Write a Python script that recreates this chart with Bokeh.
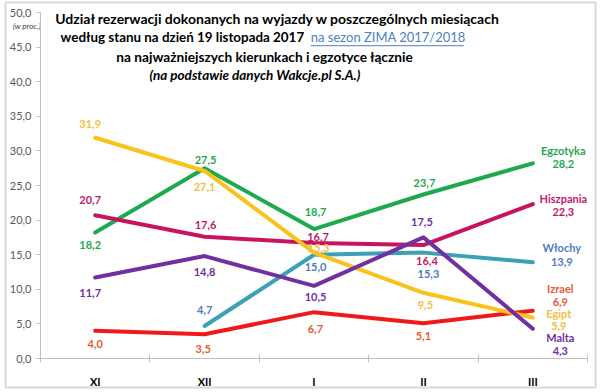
from bokeh.plotting import figure
from bokeh.models import Range1d, FixedTicker, ColumnDataSource
from bokeh.core.properties import value
from bokeh.embed import file_html
from bokeh.resources import INLINE

# ---- data ----
months = ["XI", "XII", "I", "II", "III"]
series_names = ["Egzotyka", "Hiszpania", "Włochy", "Izrael", "Egipt", "Malta"]
egzotyka = [18.2, 27.5, 18.7, 23.7, 28.2]
hiszpania = [20.7, 17.6, 16.7, 16.4, 22.3]
wlochy = [None, 4.7, 15.0, 15.3, 13.9]
izrael = [4.0, 3.5, 6.7, 5.1, 6.9]
egipt = [31.9, 27.1, 15.3, 9.5, 5.9]
malta = [11.7, 14.8, 10.5, 17.5, 4.3]
y_ticks = [0, 5, 10, 15, 20, 25, 30, 35, 40, 45, 50]

title_lines = [
    "Udział rezerwacji dokonanych na wyjazdy w poszczególnych miesiącach",
    "według stanu na dzień 19 listopada 2017",
    "na sezon ZIMA 2017/2018 ",
    "na najważniejszych kierunkach i egzotyce łącznie",
    "(na podstawie danych Wakcje.pl S.A.)",
]
unit_text = "(w proc.)"

# ---- styles ----
FONT = "Lato"
line_colors = ["#1fa94f", "#c8145f", "#3ca0b6", "#f01818", "#f8c31a", "#7030a0"]
label_colors = ["#1fa94f", "#c0186a", "#4f7cbf", "#e65a32", "#f0c040", "#7030a0"]
# (dx, dy) pixel offsets of value labels from their points
label_offsets = [
    [(-5, 12), (1, -8.5), (1.5, -17), (1, -11), (30.5, 0.5)],
    [(-5, -15), (1, -12), (4, -6), (3.5, 15.5), (30.5, 8)],
    [None, (0, -15.5), (1.5, 12.5), (5, 21), (29, 0)],
    [(0, 13), (-1.5, 14.5), (1.5, 17), (0, 13), (27.5, -8.6)],
    [(-5, -14), (0, 16), (4.5, -5), (2, 12), (26, 8.8)],
    [(-5, 15), (0, 15.5), (1.5, 11.5), (-1.5, -15), (27.5, 22.5)],
]
name_dy = [-13, -5.5, -14.5, -22, -4.5, 9.1]  # series name offset at last point

all_series = [egzotyka, hiszpania, wlochy, izrael, egipt, malta]
xpos = [i + 0.5 for i in range(len(months))]
n = len(months)

# layout geometry (pixels): axes box inside the 600x392 canvas
W, H = 600, 392
AX_L, AX_R, AX_T, AX_B = 40, 587, 12, 358
ux = (AX_R - AX_L) / n          # px per category
uy = (AX_B - AX_T) / 50.0       # px per percent

p = figure(width=W, height=H, output_backend="svg", toolbar_location=None,
           x_range=Range1d(-AX_L / ux, n + (W - AX_R) / ux),
           y_range=Range1d(-(H - AX_B) / uy, 50 + AX_T / uy),
           min_border_left=0, min_border_right=0, min_border_top=0, min_border_bottom=0)
p.outline_line_color = None
p.background_fill_color = "white"
p.border_fill_color = "white"
p.xgrid.visible = False
p.ygrid.visible = False

# outer chart border
p.quad(left=[(5 - AX_L) / ux], right=[n + (595 - AX_R) / ux],
       top=[50 + (AX_T - 2) / uy], bottom=[-(387 - AX_B) / uy],
       fill_color=None, line_color="#d9d9d9", line_width=2)

# y axis
p.yaxis.fixed_location = 0
p.yaxis.bounds = (0, 50)
p.yaxis.ticker = FixedTicker(ticks=y_ticks)
p.yaxis.major_label_overrides = {t: ("%.1f" % t).replace(".", ",") for t in y_ticks}
p.yaxis.axis_line_color = "#bfbfbf"
p.yaxis.major_tick_line_color = "#bfbfbf"
p.yaxis.major_tick_in = 0
p.yaxis.major_tick_out = 4
p.yaxis.minor_tick_line_color = None
p.yaxis.major_label_text_font = FONT
p.yaxis.major_label_text_font_size = "11px"
p.yaxis.major_label_text_color = "#595959"
p.yaxis.major_label_standoff = 5

# x axis
p.xaxis.fixed_location = 0
p.xaxis.bounds = (0, n)
p.xaxis.ticker = FixedTicker(ticks=xpos, minor_ticks=list(range(n + 1)))
p.xaxis.major_label_overrides = {x: m for x, m in zip(xpos, months)}
p.xaxis.axis_line_color = "#bfbfbf"
p.xaxis.major_tick_line_color = None
p.xaxis.minor_tick_line_color = "#bfbfbf"
p.xaxis.minor_tick_in = 4
p.xaxis.minor_tick_out = 4
p.xaxis.major_label_text_font = FONT
p.xaxis.major_label_text_font_style = "bold"
p.xaxis.major_label_text_font_size = "11px"
p.xaxis.major_label_text_color = "#000000"
p.xaxis.major_label_standoff = 10

# lines
for vals, col in zip(all_series, line_colors):
    ys = [float("nan") if v is None else v for v in vals]
    p.line(xpos, ys, line_color=col, line_width=4, line_join="round", line_cap="round")

# value labels
for si, (vals, name) in enumerate(zip(all_series, series_names)):
    xs, ys, txt, dxs, dys = [], [], [], [], []
    for i, v in enumerate(vals):
        if v is None:
            continue
        dx, dy = label_offsets[si][i]
        xs.append(xpos[i]); ys.append(v)
        txt.append(("%.1f" % v).replace(".", ","))
        dxs.append(dx); dys.append(dy)
    # series name near last point
    xs.append(xpos[-1]); ys.append(vals[-1]); txt.append(name)
    dxs.append(label_offsets[si][-1][0]); dys.append(name_dy[si])
    src = ColumnDataSource(dict(x=xs, y=ys, t=txt, dx=dxs, dy=dys))
    p.text(x="x", y="y", text="t", x_offset="dx", y_offset="dy", source=src,
           text_font=value(FONT), text_font_style="bold", text_font_size="11px",
           text_color=label_colors[si], text_align="center", text_baseline="middle")

# title (top of the chart)
tk = dict(text_font=value(FONT), text_baseline="middle", text_color="#000000")
p.text(x=[2.17], y=[49.2], text=[title_lines[0]], text_align="center",
       text_font_style="bold", text_font_size="14px", **tk)
p.text(x=[2.41], y=[46.4], text=[title_lines[1]], text_align="right",
       text_font_style="bold", text_font_size="13.4px", **tk)
p.text(x=[2.47], y=[46.4], text=[title_lines[2]], text_align="left",
       text_font=value(FONT), text_baseline="middle", text_color="#4f81bd",
       text_font_size="13px")
p.segment(x0=[2.47], y0=[45.2], x1=[3.87], y1=[45.2], line_color="#4f81bd", line_width=1)
p.text(x=[2.05], y=[43.6], text=[title_lines[3]], text_align="center",
       text_font_style="bold", text_font_size="13.7px", **tk)
p.text(x=[1.96], y=[41.0], text=[title_lines[4]], text_align="center",
       text_font_style="bold italic", text_font_size="13.5px", **tk)

# unit note under the top y tick
p.text(x=[(26.5 - AX_L) / ux], y=[50 - (25 - AX_T) / uy], text=[unit_text],
       text_font=value(FONT), text_font_style="italic", text_font_size="8px",
       text_color="#404040", text_align="center", text_baseline="middle")

open("out.html", "w").write(file_html(p, INLINE))
